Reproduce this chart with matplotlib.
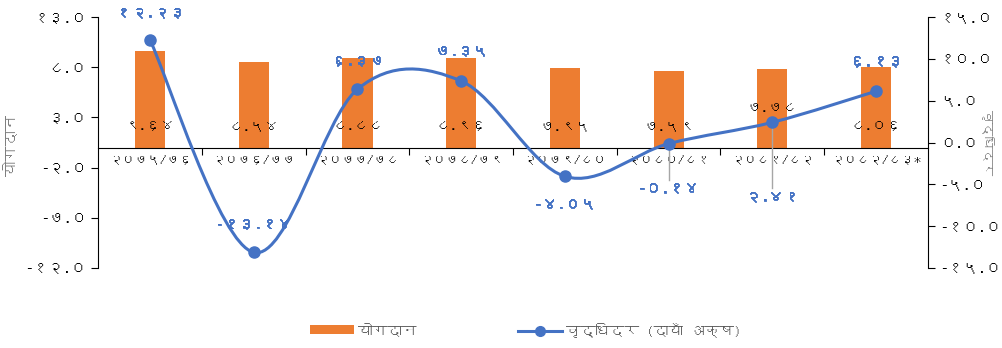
import matplotlib
matplotlib.use("Agg")
import matplotlib.pyplot as plt
import matplotlib.patheffects as pe
from matplotlib import font_manager, ft2font
from matplotlib.path import Path
from matplotlib.patches import PathPatch, Patch
from matplotlib.lines import Line2D


CATEGORIES = ["२०७५/७६", "२०७६/७७", "२०७७/७८", "२०७८/७९",
              "२०७९/८०", "२०८०/८१", "२०८१/८२", "२०८२/८३*"]
CONTRIBUTION = [9.64, 8.54, 8.88, 8.96, 7.95, 7.59, 7.78, 8.06]
GROWTH = [12.23, -13.14, 6.37, 7.35, -4.05, -0.14, 2.41, 6.13]
LEFT_TICKS = [13, 8, 3, -2, -7, -12]
RIGHT_TICKS = [15, 10, 5, 0, -5, -10, -15]

ORANGE = "#ED7D31"
BLUE = "#4472C4"
GRAY = "#595959"
LABEL_GRAY = "#7F7F7F"
LEADER = "#A6A6A6"

DEV_DIGITS = str.maketrans("0123456789", "०१२३४५६७८९")


def find_devanagari_font():
    for f in font_manager.fontManager.ttflist:
        try:
            font = ft2font.FT2Font(f.fname)
            if font.get_char_index(0x0966) and font.get_char_index(0x092F):
                return f.name
        except Exception:
            continue
    return None


def dev(value, fmt="{:.2f}"):
    return fmt.format(value).translate(DEV_DIGITS)


def smooth_path(xs, ys):
    # excel style smoothed line: cubic bezier through every point
    pts = list(zip(xs, ys))
    n = len(pts)
    verts = [pts[0]]
    codes = [Path.MOVETO]
    for i in range(n - 1):
        p0 = pts[i - 1] if i > 0 else pts[i]
        p1 = pts[i]
        p2 = pts[i + 1]
        p3 = pts[i + 2] if i + 2 < n else pts[i + 1]
        c1 = (p1[0] + (p2[0] - p0[0]) / 6, p1[1] + (p2[1] - p0[1]) / 6)
        c2 = (p2[0] - (p3[0] - p1[0]) / 6, p2[1] - (p3[1] - p1[1]) / 6)
        verts += [c1, c2, p2]
        codes += [Path.CURVE4] * 3
    return Path(verts, codes)


def main():
    dev_font = find_devanagari_font()
    families = [dev_font, "DejaVu Sans"] if dev_font else ["DejaVu Sans"]
    plt.rcParams["font.family"] = families

    fig = plt.figure(figsize=(10.02, 3.48), dpi=100)
    ax = fig.add_axes([0.098, 0.230, 0.828, 0.721])
    ax2 = ax.twinx()

    x = list(range(len(CATEGORIES)))

    ax.bar(x, CONTRIBUTION, width=0.29, color=ORANGE, zorder=2)
    ax.set_ylim(-12, 13)
    ax.set_xlim(-0.5, len(CATEGORIES) - 0.5)
    ax.set_yticks(LEFT_TICKS)
    ax.set_yticklabels([dev(v, "{:.1f}") for v in LEFT_TICKS])

    # x axis sits on zero, ticks between categories
    ax.spines["bottom"].set_position(("data", 0))
    ax.spines["top"].set_visible(False)
    ax.spines["right"].set_visible(False)
    ax.set_xticks([i + 0.5 for i in range(len(CATEGORIES) - 1)])
    ax.set_xticklabels([])
    ax.set_xticks(x, minor=True)
    ax.set_xticklabels(CATEGORIES, minor=True, fontsize=9.2)
    ax.tick_params(axis="x", which="major", direction="out", length=5)
    ax.tick_params(axis="x", which="minor", length=0, pad=4)
    ax.tick_params(axis="y", direction="out", length=5, labelsize=11)
    ax.set_ylabel("योगदान", color=LABEL_GRAY, fontsize=11)
    ax.yaxis.set_label_coords(-0.096, 0.49)

    for i, v in enumerate(CONTRIBUTION):
        ypos = 3.9 if i == 6 else 2.1
        ax.text(i, ypos, dev(v), ha="center", va="center", fontsize=10.5, color="black", zorder=3)

    ax2.set_ylim(-15, 15)
    ax2.set_yticks(RIGHT_TICKS)
    ax2.set_yticklabels([dev(v, "{:.1f}") for v in RIGHT_TICKS])
    ax2.tick_params(axis="y", direction="out", length=5, labelsize=11)
    ax2.spines["top"].set_visible(False)
    ax2.spines["bottom"].set_visible(False)
    ax2.spines["left"].set_visible(False)
    ax2.set_ylabel("वृद्धिदर", color=LABEL_GRAY, fontsize=9.5, rotation=270, va="center")
    ax2.yaxis.set_label_coords(1.073, 0.5)

    path = smooth_path(x, GROWTH)
    ax2.add_patch(PathPatch(path, facecolor="none", edgecolor=BLUE, lw=2.2, zorder=4))
    ax2.plot(x, GROWTH, "o", color=BLUE, ms=8, zorder=5)

    # growth labels: offsets in right-axis units
    offsets = [3.3, 3.4, 3.4, 3.6, -3.3, -5.3, -8.9, 3.6]
    bold = [pe.withStroke(linewidth=0.6, foreground=BLUE)]
    for i, v in enumerate(GROWTH):
        ty = v + offsets[i]
        if i in (5, 6):
            ax2.plot([i, i], [v, ty + 1.0], color=LEADER, lw=1, zorder=3)
        ax2.text(i, ty, dev(v), ha="center", va="center", fontsize=11,
                 color=BLUE, zorder=6, path_effects=bold)

    legend_kw = dict(loc="center left", frameon=False, fontsize=10.5, handlelength=3.0,
                     handleheight=0.55, handletextpad=0.3, borderpad=0, borderaxespad=0,
                     labelcolor=GRAY)
    fig.legend([Patch(facecolor=ORANGE)], ["योगदान"],
               bbox_to_anchor=(310 / 1002, 0.052), **legend_kw)
    fig.legend([Line2D([], [], color=BLUE, lw=2.2, marker="o", ms=7)], ["वृद्धिदर (दायाँ अक्ष)"],
               bbox_to_anchor=(518 / 1002, 0.052), **legend_kw)

    fig.savefig("out.png", dpi=100)
    plt.close(fig)


if __name__ == "__main__":
    main()
